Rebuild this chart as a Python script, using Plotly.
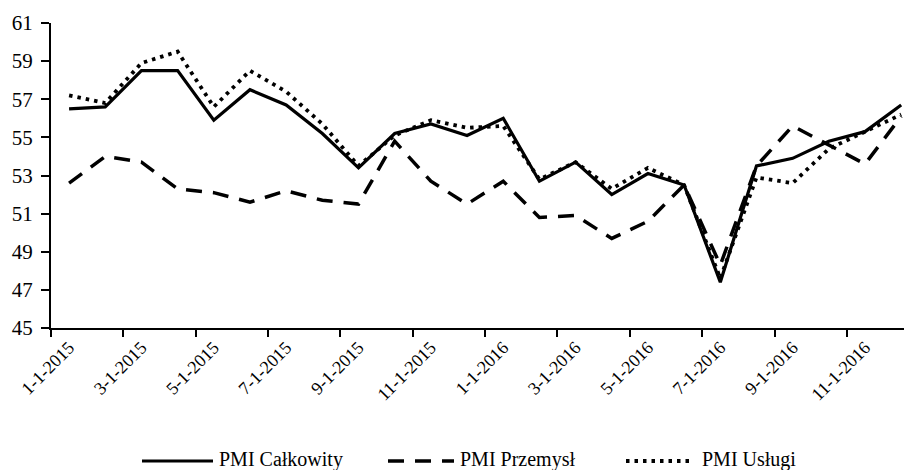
import plotly.graph_objects as go

months = ["1-1-2015", "2-1-2015", "3-1-2015", "4-1-2015", "5-1-2015", "6-1-2015",
          "7-1-2015", "8-1-2015", "9-1-2015", "10-1-2015", "11-1-2015", "12-1-2015",
          "1-1-2016", "2-1-2016", "3-1-2016", "4-1-2016", "5-1-2016", "6-1-2016",
          "7-1-2016", "8-1-2016", "9-1-2016", "10-1-2016", "11-1-2016", "12-1-2016"]

pmi_calkowity = [56.5, 56.6, 58.5, 58.5, 55.9, 57.5, 56.7, 55.2, 53.4, 55.2, 55.7, 55.1,
                 56.0, 52.7, 53.7, 52.0, 53.1, 52.5, 47.4, 53.5, 53.9, 54.8, 55.3, 56.7]
pmi_przemysl = [52.6, 54.0, 53.7, 52.3, 52.1, 51.6, 52.2, 51.7, 51.5, 54.8, 52.7, 51.5,
                52.7, 50.8, 50.9, 49.7, 50.6, 52.5, 48.3, 53.5, 55.6, 54.6, 53.6, 56.1]
pmi_uslugi = [57.2, 56.8, 58.9, 59.5, 56.6, 58.5, 57.4, 55.7, 53.5, 55.1, 55.9, 55.5,
              55.6, 52.8, 53.7, 52.3, 53.4, 52.5, 47.6, 52.9, 52.6, 54.4, 55.3, 56.2]

names = ["PMI Całkowity", "PMI Przemysł", "PMI Usługi"]
y_ticks = [45, 47, 49, 51, 53, 55, 57, 59, 61]

FONT = "Liberation Serif, Times New Roman, serif"
W, H = 912, 470
ML, MR, MT, MB = 43, 0, 15, 150

styles = [dict(color="black", width=3.2),
          dict(color="black", width=3.5, dash="16px,11px"),
          dict(color="black", width=3.8, dash="3.5px,5px")]
series = [pmi_calkowity, pmi_przemysl, pmi_uslugi]

fig = go.Figure()
for nm, ys, st in zip(names, series, styles):
    fig.add_trace(go.Scatter(x=months, y=ys, name=nm, mode="lines", line=st,
                             showlegend=False))

# custom legend (long sample lines like the original), positions in figure pixels
pw, ph = W - ML - MR, H - MT - MB


def px_to_paper(fx, fy):
    return (fx - ML) / pw, (H - MB - fy) / ph


legend_items = [(134, 205, 209), (380, 446, 450), (618, 686, 692)]
leg_y_line = 453
leg_y_text = 451
for (x0, x1, xt), nm, st in zip(legend_items, names, styles):
    a0, b0 = px_to_paper(x0, leg_y_line)
    a1, _ = px_to_paper(x1, leg_y_line)
    fig.add_shape(type="line", xref="paper", yref="paper", x0=a0, x1=a1, y0=b0, y1=b0,
                  line=st, layer="above")
    at, bt = px_to_paper(xt, leg_y_text)
    fig.add_annotation(xref="paper", yref="paper", x=at, y=bt, text=nm, showarrow=False,
                       xanchor="left", yanchor="middle",
                       font=dict(size=20, family=FONT, color="black"))

fig.update_layout(
    width=W, height=H,
    margin=dict(l=ML, r=MR, t=MT, b=MB),
    paper_bgcolor="white", plot_bgcolor="white",
    font=dict(family=FONT, color="black", size=18),
    showlegend=False,
    xaxis=dict(type="category", range=[-0.5, 23.52], tickson="boundaries",
               dtick=2, tickangle=-45, ticks="outside", ticklen=7, tickwidth=1.5,
               tickcolor="black", showline=True, linecolor="black", linewidth=2,
               showgrid=False, zeroline=False, automargin=False,
               tickfont=dict(size=18, family=FONT)),
    yaxis=dict(range=[45, 61], tickvals=y_ticks, ticks="outside", ticklen=8,
               tickwidth=1.5, tickcolor="black", showline=True, linecolor="black",
               linewidth=2, showgrid=False, zeroline=False, automargin=False,
               ticklabelstandoff=4,
               tickfont=dict(size=21, family=FONT)),
)

fig.write_html("out.html")
